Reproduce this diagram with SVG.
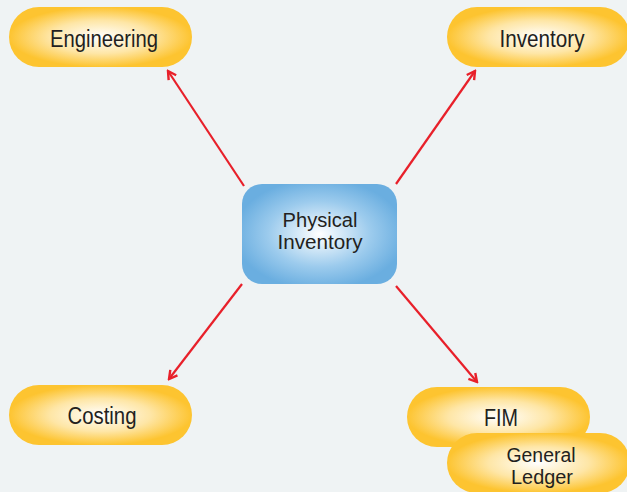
<svg xmlns="http://www.w3.org/2000/svg" width="627" height="492" viewBox="0 0 627 492">
<defs>
<radialGradient id="gy" cx="50%" cy="50%" r="50%">
<stop offset="0" stop-color="#ffffff"/>
<stop offset="0.55" stop-color="#fee6a6"/>
<stop offset="1" stop-color="#fdc430"/>
</radialGradient>
<radialGradient id="gb" cx="50%" cy="50%" r="55%">
<stop offset="0" stop-color="#ffffff"/>
<stop offset="0.6" stop-color="#9ccbed"/>
<stop offset="1" stop-color="#6aaee0"/>
</radialGradient>
<marker id="ah" viewBox="0 0 12 12" refX="10" refY="6" markerWidth="12" markerHeight="12" markerUnits="userSpaceOnUse" orient="auto">
<path d="M2,1.5 L10,6 L2,10.5" fill="none" stroke="#e8202a" stroke-width="2.4" stroke-linejoin="miter"/>
</marker>
</defs>
<style>
.pill{fill:url(#gy)}
.box{fill:url(#gb)}
.t{font-family:"Liberation Sans",Arial,sans-serif;fill:#231f20;text-anchor:middle}
.c{stroke:#e8202a;stroke-width:2.2;fill:none;marker-end:url(#ah)}
</style>
<rect width="627" height="492" fill="#eff3f4"/>
<g id="connectors">
<line class="c" x1="244" y1="186" x2="168" y2="71"/>
<line class="c" x1="396" y1="184" x2="475" y2="71"/>
<line class="c" x1="242" y1="284" x2="169" y2="379"/>
<line class="c" x1="396" y1="286" x2="477" y2="382"/>
</g>
<g id="engineering">
<rect class="pill" x="9" y="7" width="183" height="60" rx="30"/>
<text class="t" x="104" y="47" font-size="23" textLength="108" lengthAdjust="spacingAndGlyphs">Engineering</text>
</g>
<g id="inventory">
<rect class="pill" x="447" y="7" width="183" height="60" rx="30"/>
<text class="t" x="542" y="47" font-size="23" textLength="85" lengthAdjust="spacingAndGlyphs">Inventory</text>
</g>
<g id="physical-inventory">
<rect class="box" x="242" y="184" width="155" height="100" rx="20"/>
<text class="t" x="320" y="227" font-size="19.5" textLength="75" lengthAdjust="spacingAndGlyphs">Physical</text>
<text class="t" x="320" y="249" font-size="19.5" textLength="85" lengthAdjust="spacingAndGlyphs">Inventory</text>
</g>
<g id="costing">
<rect class="pill" x="9" y="385" width="183" height="60" rx="30"/>
<text class="t" x="102" y="424" font-size="23" textLength="69" lengthAdjust="spacingAndGlyphs">Costing</text>
</g>
<g id="fim">
<rect class="pill" x="407" y="387" width="183" height="60" rx="30"/>
<text class="t" x="501" y="426" font-size="23" textLength="34" lengthAdjust="spacingAndGlyphs">FIM</text>
</g>
<g id="general-ledger">
<rect class="pill" x="447" y="433" width="183" height="60" rx="30"/>
<text class="t" x="541" y="462" font-size="19.5" textLength="69" lengthAdjust="spacingAndGlyphs">General</text>
<text class="t" x="542" y="484" font-size="19.5" textLength="62" lengthAdjust="spacingAndGlyphs">Ledger</text>
</g>
</svg>
